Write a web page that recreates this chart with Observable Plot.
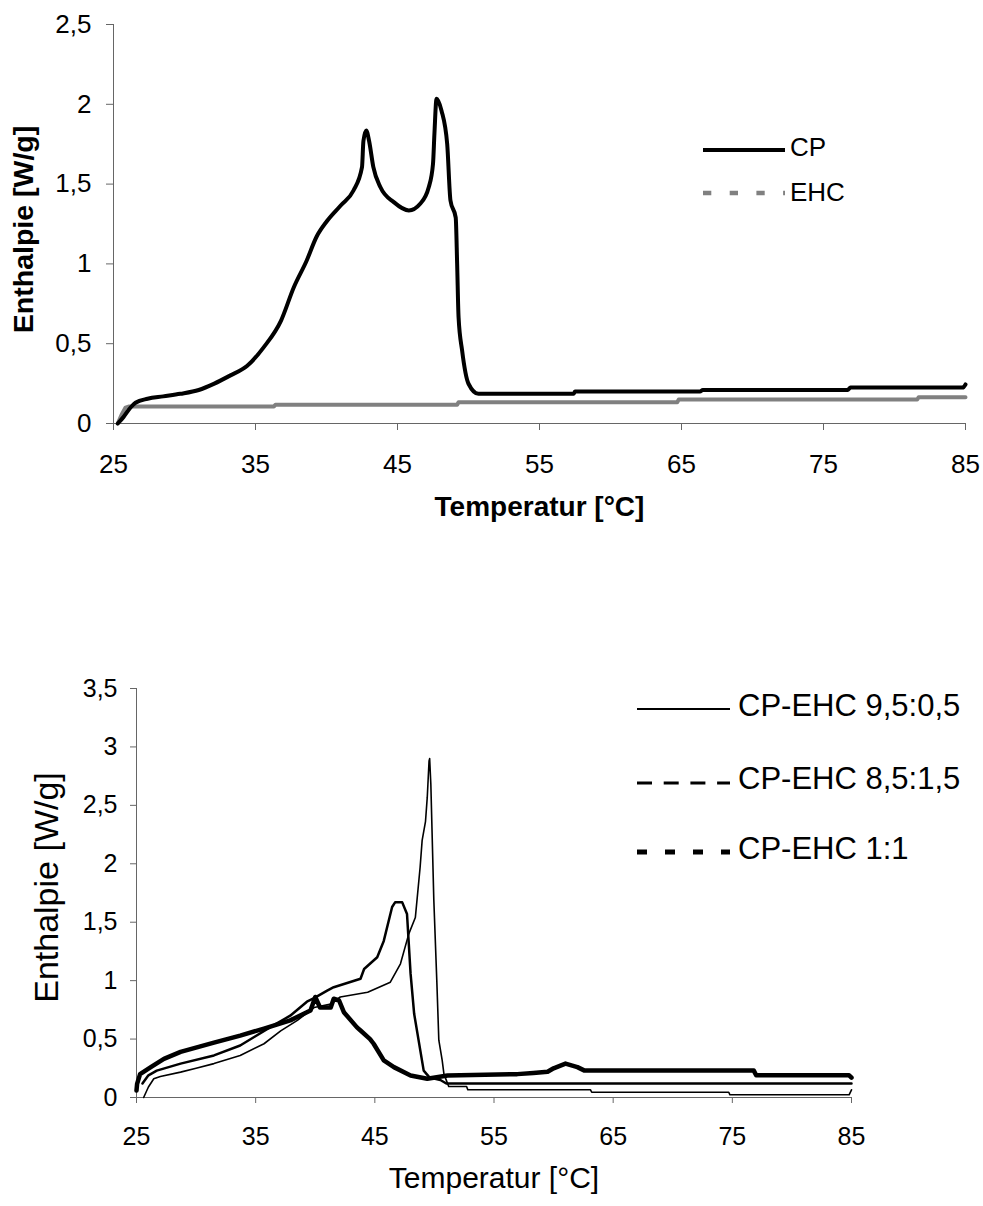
<!DOCTYPE html>
<html>
<head>
<meta charset="utf-8">
<script src="https://cdn.jsdelivr.net/npm/d3@7"></script>
<script src="https://cdn.jsdelivr.net/npm/@observablehq/plot@0.6"></script>
<style>
  body { margin: 0; background: white; }
  #wrap { position: relative; width: 983px; height: 1206px; font-family: 'Liberation Sans', Arial, sans-serif; }
  .panel { position: absolute; left: 0; }
  #legend { position: absolute; left: 0; top: 0; pointer-events: none; }
</style>
</head>
<body>
<div id="wrap">
  <div class="panel" id="top" style="top:0"></div>
  <div class="panel" id="bottom" style="top:600px"></div>
</div>
<script>
// ---- shared ticks ----
const xTicks = [25, 35, 45, 55, 65, 75, 85];
const topYTicks = [0, 0.5, 1, 1.5, 2, 2.5];
const botYTicks = [0, 0.5, 1, 1.5, 2, 2.5, 3, 3.5];

// ---- top chart: CP and EHC ----
const cpT = [25.3, 25.7, 26.2, 26.55, 27.4, 28.5, 29.7, 31.0, 32.1, 33.2, 34.4, 35.6, 36.8, 37.7, 38.6, 39.3, 40.05, 41.0, 41.9, 42.5, 42.6, 42.8, 43.0, 43.3, 43.8, 44.74, 45.8, 46.6, 47.2, 47.5, 47.6, 47.75, 48.1, 48.5, 48.73, 49.1, 49.2, 49.3, 49.55, 50.0, 50.7, 57.4, 57.5, 66.3, 66.5, 76.7, 76.9, 84.8, 85];
const cpV = [0.0, 0.04, 0.1, 0.13, 0.155, 0.17, 0.186, 0.21, 0.25, 0.30, 0.36, 0.48, 0.645, 0.854, 1.02, 1.17, 1.27, 1.366, 1.46, 1.606, 1.77, 1.836, 1.77, 1.606, 1.48, 1.387, 1.335, 1.377, 1.48, 1.627, 1.815, 2.035, 1.96, 1.75, 1.397, 1.29, 1.0, 0.666, 0.457, 0.249, 0.186, 0.186, 0.2, 0.2, 0.21, 0.21, 0.225, 0.225, 0.245];
const ehcT = [25.3, 25.6, 25.85, 26.1, 36.3, 36.4, 49.2, 49.3, 64.7, 64.8, 81.6, 81.7, 85];
const ehcV = [0, 0.06, 0.1, 0.107, 0.107, 0.117, 0.117, 0.133, 0.133, 0.15, 0.15, 0.165, 0.165];

// ---- bottom chart: mixtures ----
const s1Name = "CP-EHC 9,5:0,5";
const s1T = [25.6, 26.0, 26.45, 27.0, 28.7, 30.0, 31.5, 33.7, 35.7, 37.1, 38.5, 39.9, 41.3, 42.1, 44.4, 46.3, 47.15, 47.85, 48.4, 48.8, 48.97, 49.25, 49.4, 49.55, 49.6, 49.7, 49.95, 50.2, 50.37, 50.65, 50.8, 51.2, 52.7, 52.8, 63.1, 63.2, 74.7, 74.8, 84.8, 85];
const s1V = [0.0, 0.09, 0.16, 0.18, 0.217, 0.25, 0.29, 0.36, 0.46, 0.57, 0.66, 0.77, 0.8, 0.86, 0.9, 0.987, 1.144, 1.4, 1.54, 1.97, 2.2, 2.36, 2.57, 2.88, 2.9, 2.68, 1.69, 1.0, 0.49, 0.32, 0.2, 0.094, 0.094, 0.066, 0.066, 0.045, 0.045, 0.023, 0.023, 0.066];
const s2Name = "CP-EHC 8,5:1,5";
const s2T = [25.5, 26.0, 26.7, 28.7, 31.5, 33.7, 36.2, 37.9, 39.3, 39.9, 41.0, 41.55, 43.8, 44.1, 45.2, 45.75, 46.45, 46.7, 47.3, 47.7, 48.0, 48.3, 49.1, 49.6, 50.5, 51.0, 85];
const s2V = [0.12, 0.19, 0.23, 0.29, 0.36, 0.445, 0.6, 0.7, 0.82, 0.85, 0.915, 0.944, 1.016, 1.1, 1.2, 1.34, 1.63, 1.67, 1.67, 1.57, 1.06, 0.716, 0.23, 0.17, 0.15, 0.12, 0.12];
const s3Name = "CP-EHC 1:1";
const s3T = [25.0, 25.05, 25.3, 26.2, 27.3, 28.7, 31.5, 33.7, 35.7, 37.9, 39.6, 39.9, 40.0, 40.4, 41.3, 41.55, 42.0, 42.4, 43.5, 43.8, 44.6, 44.9, 45.75, 46.6, 48.0, 49.4, 51.1, 56.95, 58.3, 59.5, 60.0, 61.0, 62.0, 62.6, 76.8, 77.0, 84.8, 85];
const s3V = [0.06, 0.117, 0.2, 0.26, 0.33, 0.39, 0.47, 0.53, 0.59, 0.66, 0.745, 0.83, 0.86, 0.77, 0.77, 0.845, 0.83, 0.73, 0.6, 0.573, 0.5, 0.46, 0.317, 0.26, 0.188, 0.16, 0.188, 0.2, 0.21, 0.22, 0.25, 0.29, 0.26, 0.23, 0.23, 0.19, 0.19, 0.17];

const rows = (T, V) => T.map((t, i) => ({t, v: V[i]}));
const fmt = d => String(d).replace(".", ",");
const FONT = "'Liberation Sans', Arial, sans-serif";
const AX = "#666";

const topPlot = Plot.plot({
  width: 983, height: 545,
  marginTop: 24, marginLeft: 113, marginRight: 18, marginBottom: 122,
  x: {domain: [25, 85], label: null},
  y: {domain: [0, 2.5], label: null},
  style: {fontFamily: FONT, fontSize: "26px", color: "black", background: "white", overflow: "visible"},
  marks: [
    Plot.ruleX([25], {stroke: AX}),
    Plot.ruleY([0], {stroke: AX}),
    Plot.axisX({ticks: xTicks, tickSize: 7, tickPadding: 24, tickFormat: fmt, stroke: AX, fill: "black", label: null, fontSize: 26}),
    Plot.axisY({ticks: topYTicks, tickSize: 7, tickPadding: 15, tickFormat: fmt, stroke: AX, fill: "black", label: null, fontSize: 26}),
    Plot.line(rows(ehcT, ehcV), {x: "t", y: "v", stroke: "#808080", strokeWidth: 4}),
    Plot.line(rows(cpT, cpV), {x: "t", y: "v", stroke: "black", strokeWidth: 4, curve: "monotone-x"}),
    Plot.text(["Temperatur [°C]"], {text: d => d, frameAnchor: "bottom", textAnchor: "middle", dy: 92, fontWeight: "bold", fontSize: 28}),
    Plot.text(["Enthalpie [W/g]"], {text: d => d, frameAnchor: "left", textAnchor: "middle", dx: -90, dy: 5.5, rotate: -90, fontWeight: "bold", fontSize: 28.5})
  ]
});
document.getElementById("top").appendChild(topPlot);

const botPlot = Plot.plot({
  width: 983, height: 606,
  marginTop: 88, marginLeft: 136, marginRight: 132, marginBottom: 109,
  x: {domain: [25, 85], label: null},
  y: {domain: [0, 3.5], label: null},
  style: {fontFamily: FONT, fontSize: "24px", color: "black", background: "white", overflow: "visible"},
  marks: [
    Plot.ruleX([25], {stroke: AX}),
    Plot.ruleY([0], {stroke: AX}),
    Plot.axisX({ticks: xTicks, tickSize: 6, tickPadding: 24, tickFormat: fmt, stroke: AX, fill: "black", label: null, fontSize: 25}),
    Plot.axisY({ticks: botYTicks, tickSize: 6, tickPadding: 13, tickFormat: fmt, stroke: AX, fill: "black", label: null, fontSize: 25}),
    Plot.line(rows(s2T, s2V), {x: "t", y: "v", stroke: "black", strokeWidth: 2.5}),
    Plot.line(rows(s1T, s1V), {x: "t", y: "v", stroke: "black", strokeWidth: 1.6}),
    Plot.line(rows(s3T, s3V), {x: "t", y: "v", stroke: "black", strokeWidth: 4.5}),
    Plot.text(["Temperatur [°C]"], {text: d => d, frameAnchor: "bottom", textAnchor: "middle", dy: 90, fontSize: 30}),
    Plot.text(["Enthalpie [W/g]"], {text: d => d, frameAnchor: "left", textAnchor: "middle", dx: -89, dy: -5.5, rotate: -90, fontSize: 34})
  ]
});
document.getElementById("bottom").appendChild(botPlot);

// ---- legends (overlay) ----
const NS = "http://www.w3.org/2000/svg";
const leg = document.createElementNS(NS, "svg");
leg.setAttribute("id", "legend");
leg.setAttribute("width", 983);
leg.setAttribute("height", 1206);
leg.style.fontFamily = FONT;
document.getElementById("wrap").appendChild(leg);
const legendItems = [
  {label: "CP", x1: 703, x2: 785, y: 150, tx: 790, ty: 156, fs: 26, stroke: "black", sw: 4, dash: null},
  {label: "EHC", x1: 703, x2: 785, y: 193, tx: 790, ty: 201, fs: 26, stroke: "#808080", sw: 4.5, dash: "8.3,18.4"},
  {label: s1Name, x1: 637, x2: 730, y: 709, tx: 738, ty: 716, fs: 31, stroke: "black", sw: 2, dash: null},
  {label: s2Name, x1: 637, x2: 730, y: 783, tx: 738, ty: 789, fs: 31, stroke: "black", sw: 3, dash: "15,11.7"},
  {label: s3Name, x1: 637, x2: 730, y: 852, tx: 738, ty: 859, fs: 31, stroke: "black", sw: 5, dash: "10,18"}
];
for (const it of legendItems) {
  const l = document.createElementNS(NS, "line");
  l.setAttribute("x1", it.x1); l.setAttribute("x2", it.x2);
  l.setAttribute("y1", it.y); l.setAttribute("y2", it.y);
  l.setAttribute("stroke", it.stroke); l.setAttribute("stroke-width", it.sw);
  if (it.dash) l.setAttribute("stroke-dasharray", it.dash);
  leg.appendChild(l);
  const t = document.createElementNS(NS, "text");
  t.setAttribute("x", it.tx); t.setAttribute("y", it.ty);
  t.setAttribute("font-size", it.fs);
  t.setAttribute("fill", "black");
  t.textContent = it.label;
  leg.appendChild(t);
}
</script>
</body>
</html>
